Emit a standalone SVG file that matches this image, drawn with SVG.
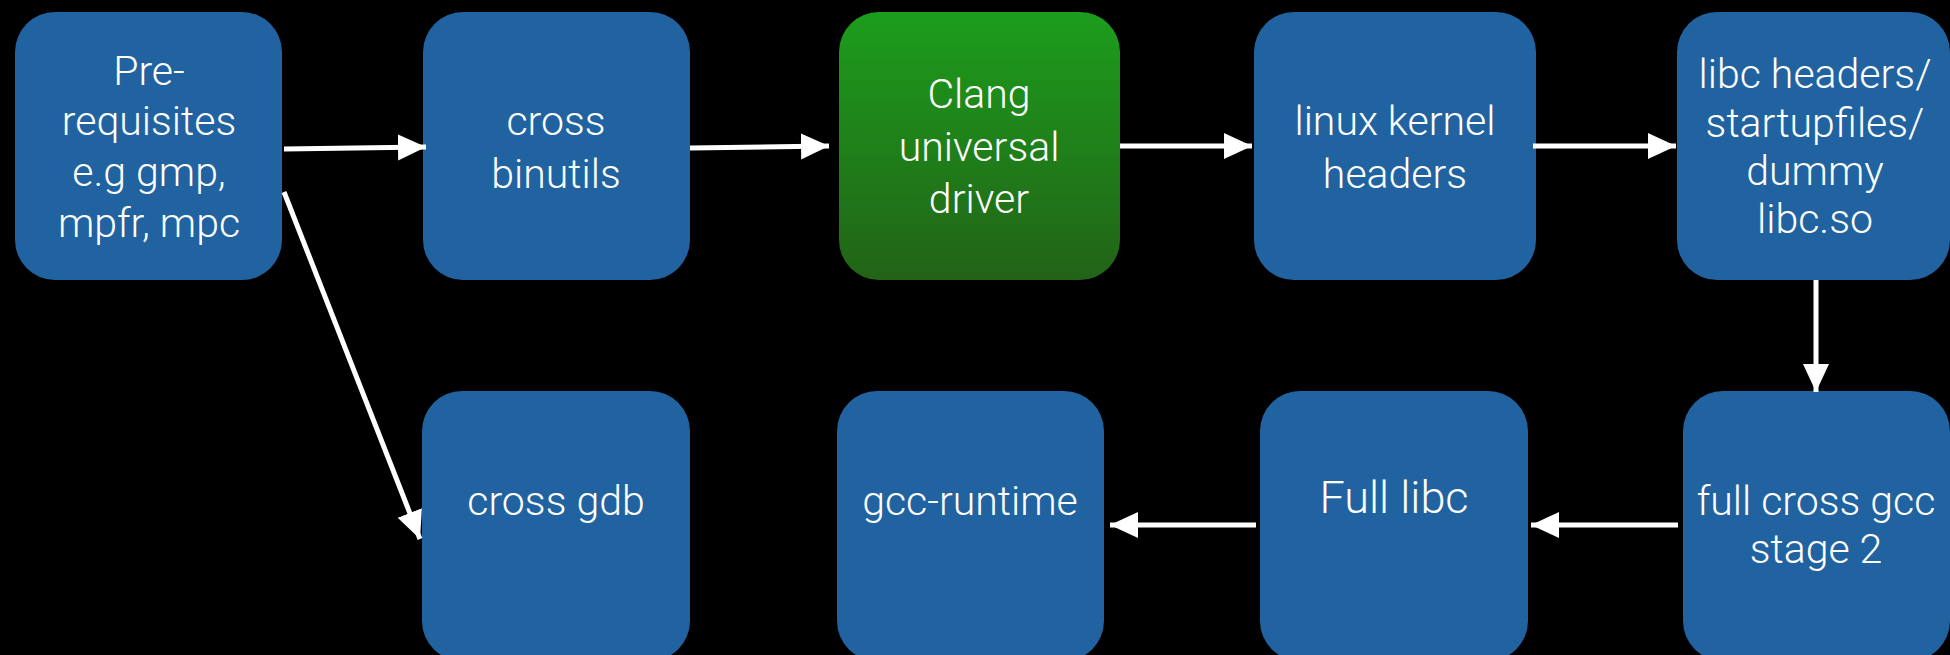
<svg xmlns="http://www.w3.org/2000/svg" width="1950" height="655" viewBox="0 0 1950 655">
  <defs>
    <linearGradient id="green" x1="0" y1="0" x2="0" y2="1">
      <stop offset="0" stop-color="#1c9d1c"/>
      <stop offset="1" stop-color="#226317"/>
    </linearGradient>
    <marker id="ah" markerUnits="userSpaceOnUse" markerWidth="30" markerHeight="28" refX="28" refY="13" orient="auto">
      <path d="M0,0 L28,13 L0,26 Z" fill="#ffffff"/>
    </marker>
    <style>
      .box { fill: #2163a0; }
      .green { fill: url(#green); }
      .lbl { fill: #ffffff; font-family: Roboto, "Liberation Sans", sans-serif; font-weight: 300; font-size: 41px; text-anchor: middle; }
      .big { font-size: 45px; }
      .conn { stroke: #ffffff; stroke-width: 5; fill: none; marker-end: url(#ah); }
    </style>
  </defs>
  <rect x="0" y="0" width="1950" height="655" fill="#000000"/>

  <g id="prereq">
    <rect class="box" x="15" y="12" width="267" height="268" rx="40" ry="40"/>
    <text class="lbl" x="149" y="85">Pre-</text>
    <text class="lbl" x="149" y="135">requisites</text>
    <text class="lbl" x="149" y="186">e.g gmp,</text>
    <text class="lbl" x="149" y="237">mpfr, mpc</text>
  </g>
  <g id="binutils">
    <rect class="box" x="423" y="12" width="267" height="268" rx="40" ry="40"/>
    <text class="lbl" x="556" y="135">cross</text>
    <text class="lbl" x="556" y="188">binutils</text>
  </g>
  <g id="clang">
    <rect class="green" x="839" y="12" width="281" height="268" rx="40" ry="40"/>
    <text class="lbl" x="979" y="108">Clang</text>
    <text class="lbl" x="979" y="161">universal</text>
    <text class="lbl" x="979" y="213">driver</text>
  </g>
  <g id="kernel">
    <rect class="box" x="1254" y="12" width="282" height="268" rx="40" ry="40"/>
    <text class="lbl" x="1395" y="135">linux kernel</text>
    <text class="lbl" x="1395" y="188">headers</text>
  </g>
  <g id="libchdr">
    <rect class="box" x="1677" y="12" width="273" height="268" rx="40" ry="40"/>
    <text class="lbl" x="1815" y="88">libc headers/</text>
    <text class="lbl" x="1815" y="137">startupfiles/</text>
    <text class="lbl" x="1815" y="185">dummy</text>
    <text class="lbl" x="1815" y="233">libc.so</text>
  </g>
  <g id="gdb">
    <rect class="box" x="422" y="391" width="268" height="270" rx="40" ry="40"/>
    <text class="lbl" x="556" y="515">cross gdb</text>
  </g>
  <g id="gccrt">
    <rect class="box" x="837" y="391" width="267" height="270" rx="40" ry="40"/>
    <text class="lbl" x="970" y="515">gcc-runtime</text>
  </g>
  <g id="fulllibc">
    <rect class="box" x="1260" y="391" width="268" height="270" rx="40" ry="40"/>
    <text class="lbl big" x="1394" y="513">Full libc</text>
  </g>
  <g id="gcc2">
    <rect class="box" x="1683" y="391" width="267" height="270" rx="40" ry="40"/>
    <text class="lbl" x="1816" y="515">full cross gcc</text>
    <text class="lbl" x="1816" y="563">stage 2</text>
  </g>

  <g id="connectors">
    <line class="conn" x1="284" y1="149" x2="426" y2="147"/>
    <line class="conn" x1="690" y1="148" x2="829" y2="146"/>
    <line class="conn" x1="1120" y1="146" x2="1252" y2="146"/>
    <line class="conn" x1="1533" y1="146" x2="1676" y2="146"/>
    <line class="conn" x1="1816" y1="280" x2="1816" y2="392"/>
    <line class="conn" x1="1678" y1="525" x2="1531" y2="525"/>
    <line class="conn" x1="1256" y1="525" x2="1110" y2="525"/>
    <line class="conn" x1="284" y1="192" x2="420" y2="539"/>
  </g>
</svg>
